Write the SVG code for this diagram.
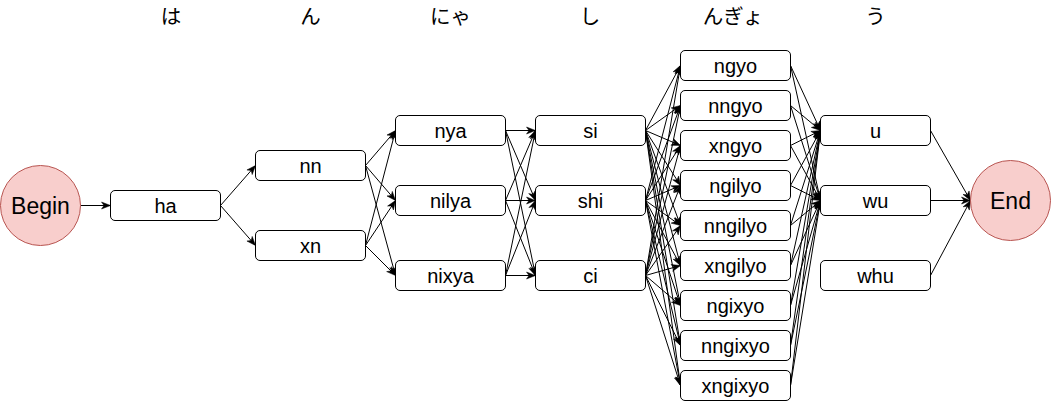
<svg xmlns="http://www.w3.org/2000/svg" width="1051" height="401" viewBox="0 0 1051 401">
<style>
.n rect{fill:#fff;stroke:#000;stroke-width:1}
.n text,.c text{font-family:"Liberation Sans",Arial,sans-serif;font-size:20px;text-anchor:middle;fill:#000}
.c circle{fill:#f8cecc;stroke:#b85450;stroke-width:1}
.c text{font-size:23px}
.h text{font-family:"Noto Sans CJK JP",sans-serif;font-size:20.5px;text-anchor:middle;fill:#000}
#edges line{stroke:#000;stroke-width:1;fill:none;marker-end:url(#arr)}
</style>
<defs>
<marker id="arr" markerUnits="userSpaceOnUse" markerWidth="10" markerHeight="8" refX="9" refY="3.5" orient="auto" overflow="visible">
<path d="M0,0 L9,3.5 L0,7 L2.5,3.5 z" fill="#000" stroke="#000" stroke-width="0.5"/>
</marker>
</defs>
<rect width="1051" height="401" fill="#fff"/>
<g class="h" id="headers">
<text x="171" y="24">は</text>
<text x="310.5" y="24">ん</text>
<text x="450.5" y="24">にゃ</text>
<text x="590" y="24">し</text>
<text x="733" y="24">んぎょ</text>
<text x="875.5" y="24">う</text>
</g>
<g id="edges">
<line x1="80.5" y1="205.5" x2="110.5" y2="205.5"/>
<line x1="220.5" y1="205.5" x2="255.5" y2="165.5"/>
<line x1="220.5" y1="205.5" x2="255.5" y2="245.5"/>
<line x1="365.5" y1="165.5" x2="395.5" y2="130.5"/>
<line x1="365.5" y1="165.5" x2="395.5" y2="200.5"/>
<line x1="365.5" y1="165.5" x2="395.5" y2="275.5"/>
<line x1="365.5" y1="245.5" x2="395.5" y2="130.5"/>
<line x1="365.5" y1="245.5" x2="395.5" y2="200.5"/>
<line x1="365.5" y1="245.5" x2="395.5" y2="275.5"/>
<line x1="505.5" y1="130.5" x2="535.5" y2="130.5"/>
<line x1="505.5" y1="130.5" x2="535.5" y2="200.5"/>
<line x1="505.5" y1="130.5" x2="535.5" y2="275.5"/>
<line x1="505.5" y1="200.5" x2="535.5" y2="130.5"/>
<line x1="505.5" y1="200.5" x2="535.5" y2="200.5"/>
<line x1="505.5" y1="200.5" x2="535.5" y2="275.5"/>
<line x1="505.5" y1="275.5" x2="535.5" y2="130.5"/>
<line x1="505.5" y1="275.5" x2="535.5" y2="200.5"/>
<line x1="505.5" y1="275.5" x2="535.5" y2="275.5"/>
<line x1="645.5" y1="130.5" x2="680.5" y2="65.5"/>
<line x1="645.5" y1="130.5" x2="680.5" y2="105.5"/>
<line x1="645.5" y1="130.5" x2="680.5" y2="145.5"/>
<line x1="645.5" y1="130.5" x2="680.5" y2="185.5"/>
<line x1="645.5" y1="130.5" x2="680.5" y2="225.5"/>
<line x1="645.5" y1="130.5" x2="680.5" y2="265.5"/>
<line x1="645.5" y1="130.5" x2="680.5" y2="305.5"/>
<line x1="645.5" y1="130.5" x2="680.5" y2="345.5"/>
<line x1="645.5" y1="130.5" x2="680.5" y2="385.5"/>
<line x1="645.5" y1="200.5" x2="680.5" y2="65.5"/>
<line x1="645.5" y1="200.5" x2="680.5" y2="105.5"/>
<line x1="645.5" y1="200.5" x2="680.5" y2="145.5"/>
<line x1="645.5" y1="200.5" x2="680.5" y2="185.5"/>
<line x1="645.5" y1="200.5" x2="680.5" y2="225.5"/>
<line x1="645.5" y1="200.5" x2="680.5" y2="265.5"/>
<line x1="645.5" y1="200.5" x2="680.5" y2="305.5"/>
<line x1="645.5" y1="200.5" x2="680.5" y2="345.5"/>
<line x1="645.5" y1="200.5" x2="680.5" y2="385.5"/>
<line x1="645.5" y1="275.5" x2="680.5" y2="65.5"/>
<line x1="645.5" y1="275.5" x2="680.5" y2="105.5"/>
<line x1="645.5" y1="275.5" x2="680.5" y2="145.5"/>
<line x1="645.5" y1="275.5" x2="680.5" y2="185.5"/>
<line x1="645.5" y1="275.5" x2="680.5" y2="225.5"/>
<line x1="645.5" y1="275.5" x2="680.5" y2="265.5"/>
<line x1="645.5" y1="275.5" x2="680.5" y2="305.5"/>
<line x1="645.5" y1="275.5" x2="680.5" y2="345.5"/>
<line x1="645.5" y1="275.5" x2="680.5" y2="385.5"/>
<line x1="790.5" y1="65.5" x2="820.5" y2="130.5"/>
<line x1="790.5" y1="65.5" x2="820.5" y2="200.5"/>
<line x1="790.5" y1="105.5" x2="820.5" y2="130.5"/>
<line x1="790.5" y1="105.5" x2="820.5" y2="200.5"/>
<line x1="790.5" y1="145.5" x2="820.5" y2="130.5"/>
<line x1="790.5" y1="145.5" x2="820.5" y2="200.5"/>
<line x1="790.5" y1="185.5" x2="820.5" y2="130.5"/>
<line x1="790.5" y1="185.5" x2="820.5" y2="200.5"/>
<line x1="790.5" y1="225.5" x2="820.5" y2="130.5"/>
<line x1="790.5" y1="225.5" x2="820.5" y2="200.5"/>
<line x1="790.5" y1="265.5" x2="820.5" y2="130.5"/>
<line x1="790.5" y1="265.5" x2="820.5" y2="200.5"/>
<line x1="790.5" y1="305.5" x2="820.5" y2="130.5"/>
<line x1="790.5" y1="305.5" x2="820.5" y2="200.5"/>
<line x1="790.5" y1="345.5" x2="820.5" y2="130.5"/>
<line x1="790.5" y1="345.5" x2="820.5" y2="200.5"/>
<line x1="790.5" y1="385.5" x2="820.5" y2="130.5"/>
<line x1="790.5" y1="385.5" x2="820.5" y2="200.5"/>
<line x1="930.5" y1="130.5" x2="970.5" y2="200.5"/>
<line x1="930.5" y1="200.5" x2="970.5" y2="200.5"/>
<line x1="930.5" y1="275.5" x2="970.5" y2="200.5"/>
</g>
<g class="c" id="begin"><circle cx="40.5" cy="205.5" r="40"/><text x="40.5" y="213.5">Begin</text></g>
<g class="c" id="end"><circle cx="1010.5" cy="200.5" r="40"/><text x="1010.5" y="208.5">End</text></g>
<g class="n" id="ha"><rect x="110.5" y="190.5" width="110" height="30" rx="4.5"/><text x="165.5" y="212.5">ha</text></g>
<g class="n" id="nn"><rect x="255.5" y="150.5" width="110" height="30" rx="4.5"/><text x="310.5" y="172.5">nn</text></g>
<g class="n" id="xn"><rect x="255.5" y="230.5" width="110" height="30" rx="4.5"/><text x="310.5" y="252.5">xn</text></g>
<g class="n" id="nya"><rect x="395.5" y="115.5" width="110" height="30" rx="4.5"/><text x="450.5" y="137.5">nya</text></g>
<g class="n" id="nilya"><rect x="395.5" y="185.5" width="110" height="30" rx="4.5"/><text x="450.5" y="207.5">nilya</text></g>
<g class="n" id="nixya"><rect x="395.5" y="260.5" width="110" height="30" rx="4.5"/><text x="450.5" y="282.5">nixya</text></g>
<g class="n" id="si"><rect x="535.5" y="115.5" width="110" height="30" rx="4.5"/><text x="590.5" y="137.5">si</text></g>
<g class="n" id="shi"><rect x="535.5" y="185.5" width="110" height="30" rx="4.5"/><text x="590.5" y="207.5">shi</text></g>
<g class="n" id="ci"><rect x="535.5" y="260.5" width="110" height="30" rx="4.5"/><text x="590.5" y="282.5">ci</text></g>
<g class="n" id="ngyo"><rect x="680.5" y="50.5" width="110" height="30" rx="4.5"/><text x="735.5" y="72.5">ngyo</text></g>
<g class="n" id="nngyo"><rect x="680.5" y="90.5" width="110" height="30" rx="4.5"/><text x="735.5" y="112.5">nngyo</text></g>
<g class="n" id="xngyo"><rect x="680.5" y="130.5" width="110" height="30" rx="4.5"/><text x="735.5" y="152.5">xngyo</text></g>
<g class="n" id="ngilyo"><rect x="680.5" y="170.5" width="110" height="30" rx="4.5"/><text x="735.5" y="192.5">ngilyo</text></g>
<g class="n" id="nngilyo"><rect x="680.5" y="210.5" width="110" height="30" rx="4.5"/><text x="735.5" y="232.5">nngilyo</text></g>
<g class="n" id="xngilyo"><rect x="680.5" y="250.5" width="110" height="30" rx="4.5"/><text x="735.5" y="272.5">xngilyo</text></g>
<g class="n" id="ngixyo"><rect x="680.5" y="290.5" width="110" height="30" rx="4.5"/><text x="735.5" y="312.5">ngixyo</text></g>
<g class="n" id="nngixyo"><rect x="680.5" y="330.5" width="110" height="30" rx="4.5"/><text x="735.5" y="352.5">nngixyo</text></g>
<g class="n" id="xngixyo"><rect x="680.5" y="370.5" width="110" height="30" rx="4.5"/><text x="735.5" y="392.5">xngixyo</text></g>
<g class="n" id="u"><rect x="820.5" y="115.5" width="110" height="30" rx="4.5"/><text x="875.5" y="137.5">u</text></g>
<g class="n" id="wu"><rect x="820.5" y="185.5" width="110" height="30" rx="4.5"/><text x="875.5" y="207.5">wu</text></g>
<g class="n" id="whu"><rect x="820.5" y="260.5" width="110" height="30" rx="4.5"/><text x="875.5" y="282.5">whu</text></g>
</svg>
